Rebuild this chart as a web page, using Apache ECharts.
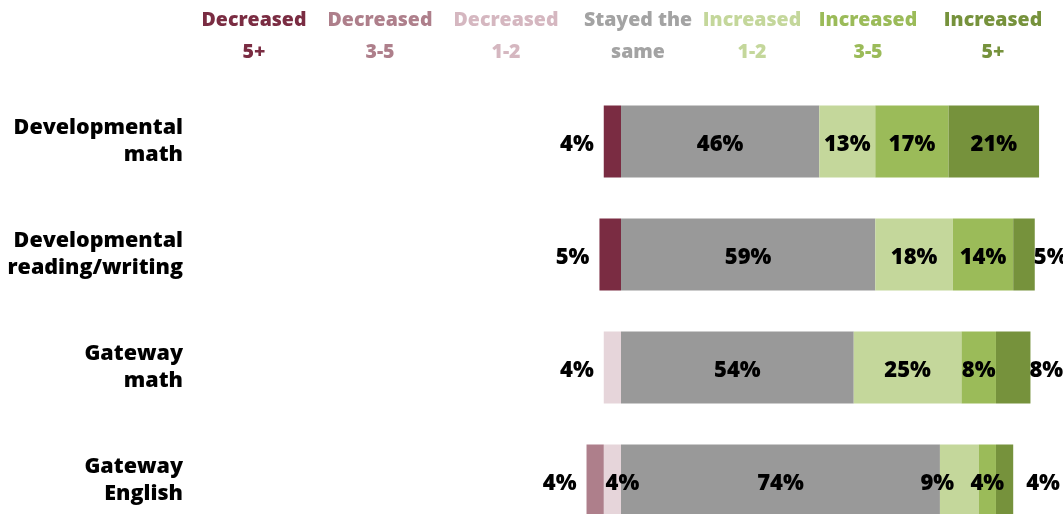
<!DOCTYPE html>
<html>
<head>
<meta charset="utf-8">
<script src="https://cdn.jsdelivr.net/npm/echarts@6/dist/echarts.min.js"></script>
<style>
  html, body { margin: 0; padding: 0; background: #fff; }
  #chart { width: 1063px; height: 514px; }
</style>
</head>
<body>
<div id="chart"></div>
<script>
// categories (top to bottom)
var categories = ['Developmental math', 'Developmental reading/writing', 'Gateway math', 'Gateway English'];

// percent of students, per change group
var decreased5 = [4, 5, 0, 0];
var decreased35 = [0, 0, 0, 4];
var decreased12 = [0, 0, 4, 4];
var stayedSame = [46, 59, 54, 74];
var increased12 = [13, 18, 25, 9];
var increased35 = [17, 14, 8, 4];
var increased5 = [21, 5, 8, 4];

var groupNames = ['Decreased 5+', 'Decreased 3-5', 'Decreased 1-2', 'Stayed the same', 'Increased 1-2', 'Increased 3-5', 'Increased 5+'];

// styling
var barColors = {
  'Decreased 5+': '#7A2C42',
  'Decreased 3-5': '#AE7F8B',
  'Decreased 1-2': '#E6D5DA',
  'Stayed the same': '#999999',
  'Increased 1-2': '#C4D79B',
  'Increased 3-5': '#9BBB59',
  'Increased 5+': '#76923C'
};
var headColors = {
  'Decreased 5+': '#7A2C42',
  'Decreased 3-5': '#AE7F8B',
  'Decreased 1-2': '#D5B7C0',
  'Stayed the same': '#A3A3A3',
  'Increased 1-2': '#C4D79B',
  'Increased 3-5': '#9BBB59',
  'Increased 5+': '#76923C'
};
var headCenters = [254, 380, 506, 638, 752, 868, 993];

// hand placed labels, like in the original
var labelTweaks = {
  'Decreased 1-2': { 3: { position: 'inside', offset: [10, 3] } },
  'Increased 1-2': { 3: { position: 'inside', offset: [-22, 3] } },
  'Increased 5+': {
    1: { position: 'right', distance: -1 },
    2: { position: 'right', distance: -1 },
    3: { position: 'right', distance: 13 }
  }
};

var FONT = '"Open Sans", "Noto Sans", sans-serif';

function makeSeries(name, values, sign) {
  var tweaks = labelTweaks[name] || {};
  var data = values.map(function (v, i) {
    var item = { value: sign * v };
    if (tweaks[i]) item.label = tweaks[i];
    return item;
  });
  return {
    name: name,
    type: 'bar',
    stack: 'total',
    barWidth: 72,
    itemStyle: { color: barColors[name] },
    label: {
      show: true,
      position: sign < 0 ? 'left' : 'inside',
      distance: 10,
      offset: [0, 3],
      fontFamily: FONT,
      fontWeight: 800,
      fontSize: 22,
      color: '#000',
      formatter: function (p) {
        var v = Math.abs(p.value);
        return v ? v + '%' : '';
      }
    },
    data: data
  };
}

var series = [
  makeSeries('Decreased 1-2', decreased12, -1),
  makeSeries('Decreased 3-5', decreased35, -1),
  makeSeries('Decreased 5+', decreased5, -1),
  makeSeries('Stayed the same', stayedSame, 1),
  makeSeries('Increased 1-2', increased12, 1),
  makeSeries('Increased 3-5', increased35, 1),
  makeSeries('Increased 5+', increased5, 1)
];

var heads = groupNames.map(function (name, i) {
  var cut = name.lastIndexOf(' ');
  return {
    type: 'text',
    x: headCenters[i],
    y: 4,
    style: {
      text: name.slice(0, cut) + '\n' + name.slice(cut + 1),
      fill: headColors[name],
      font: '800 19.5px ' + FONT,
      lineHeight: 32,
      align: 'center',
      verticalAlign: 'top'
    }
  };
});

var chart = echarts.init(document.getElementById('chart'));

var option = {
  animation: false,
  grid: { left: 190, top: 85, width: 862, height: 452, outerBoundsMode: 'none' },
  xAxis: {
    type: 'value',
    min: -100,
    max: 100,
    show: false
  },
  yAxis: {
    type: 'category',
    inverse: true,
    data: categories,
    axisLine: { show: false },
    axisTick: { show: false },
    axisLabel: {
      margin: 7,
      align: 'right',
      color: '#000',
      fontFamily: FONT,
      fontWeight: 800,
      fontSize: 21.5,
      lineHeight: 27,
      padding: [6, 0, 0, 0],
      formatter: function (v) { return v.replace(' ', '\n'); }
    }
  },
  graphic: heads,
  series: series
};

chart.setOption(option);
</script>
</body>
</html>
